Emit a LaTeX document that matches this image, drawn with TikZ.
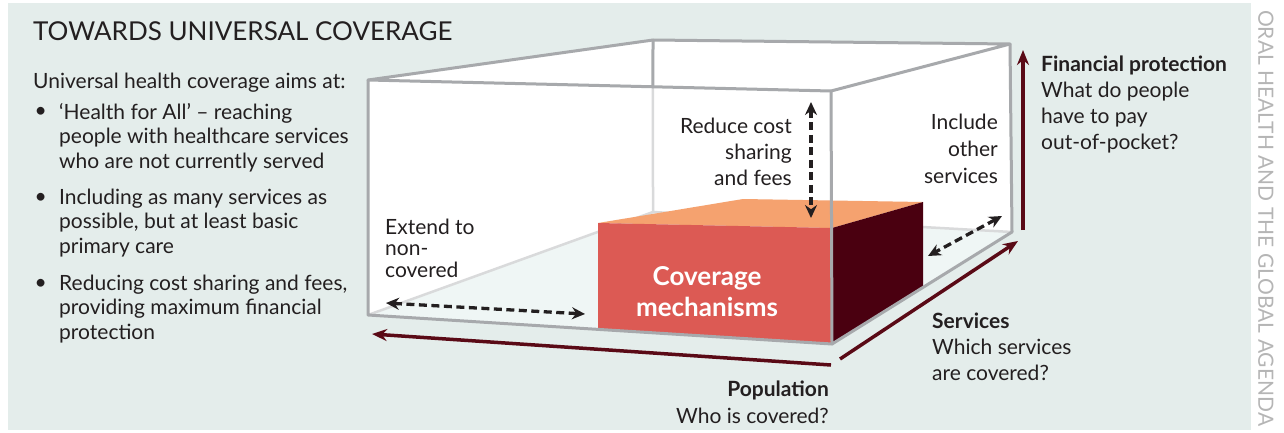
\documentclass[tikz,border=0pt]{standalone}
\usepackage{fontspec}
\setmainfont{Lato}
\usetikzlibrary{positioning,arrows.meta,calc}

\definecolor{panelbg}{HTML}{E4EDEB}
\definecolor{floorfill}{HTML}{EFF6F5}
\definecolor{edgegray}{HTML}{A7A9AC}
\definecolor{hiddengray}{HTML}{D9DADB}
\definecolor{axisred}{HTML}{5A0A16}
\definecolor{blockred}{HTML}{DC5A54}
\definecolor{blocktop}{HTML}{F5A26F}
\definecolor{blockside}{HTML}{4A0010}
\definecolor{textdark}{HTML}{231F20}
\definecolor{spinegray}{HTML}{B5B5B5}

\begin{document}
\begin{tikzpicture}[
    x=1pt, y=-1pt,
    boxedge/.style={draw=edgegray, line width=3pt, line join=round, line cap=round},
    hiddenedge/.style={draw=hiddengray, line width=2.5pt, line cap=round},
    axisarrow/.style={draw=axisred, line width=3.5pt, -{Stealth[length=15pt, width=12pt]}},
    shiftarrow/.style={draw=textdark, line width=3.3pt, dash pattern=on 8pt off 4.5pt,
        {Stealth[length=13pt, width=12pt]}-{Stealth[length=13pt, width=12pt]}},
    txt/.style={font=\fontsize{21}{24.5}\selectfont, text=textdark, inner sep=0pt, align=left},
    rtxt/.style={txt, align=right},
    head/.style={txt, font=\fontsize{21}{26}\selectfont\bfseries}
]
\useasboundingbox (0,0) rectangle (1284,432);

% Panel
\fill[panelbg] (8,3) rectangle (1251,430);

% Box corners
\coordinate (ftl) at (368,80);
\coordinate (ftr) at (831,91);
\coordinate (fbr) at (832,344);
\coordinate (fbl) at (368,315);
\coordinate (btl) at (653,40);
\coordinate (btr) at (1010,44);
\coordinate (bbr) at (1012,232);
\coordinate (bbl) at (653,212);
\coordinate (cross) at (intersection of ftl--ftr and btl--bbl);

% Box inside and floor
\fill[white] (ftl) -- (btl) -- (btr) -- (bbr) -- (fbr) -- (fbl) -- cycle;
\fill[floorfill] (fbl) -- (bbl) -- (bbr) -- (fbr) -- cycle;

% Hidden edges
\draw[hiddenedge] (cross) -- (bbl) -- (bbr);
\draw[hiddenedge] (fbl) -- (bbl);

% Coverage block
\coordinate (rlt) at (598,223);
\coordinate (rrt) at (832,228);
\coordinate (rrb) at (832,343);
\coordinate (rlb) at (598,329);
\coordinate (rbl) at (743,199);
\coordinate (rbr) at (923,202);
\coordinate (rbb) at (923,286);
\fill[blocktop] (rlt) -- (rbl) -- (rbr) -- (rrt) -- cycle;
\fill[blockred] (rlt) -- (rrt) -- (rrb) -- (rlb) -- cycle;
\fill[blockside] (rrt) -- (rbr) -- (rbb) -- (rrb) -- cycle;
\node[font=\fontsize{26}{31}\selectfont\bfseries, text=white, align=center, inner sep=0pt]
    (mech) at (707,292) {Coverage\\mechanisms};

% Visible edges
\draw[boxedge] (ftl) -- (btl) -- (btr) -- (ftr) -- cycle;
\draw[boxedge] (btl) -- (cross);
\draw[boxedge] (ftl) -- (fbl) -- (fbr) -- (ftr);
\draw[boxedge] (btr) -- (bbr) -- (fbr);

% Title and list (multi-line nodes sit on their last baseline)
\node[font=\fontsize{26}{30}\selectfont, text=textdark, inner sep=0pt, anchor=base west]
    (title) at (33,40) {TOWARDS UNIVERSAL COVERAGE};
\node[txt, anchor=base west] (intro) at (33,88) {Universal health coverage aims at:};
\node[txt, anchor=base west] (item1) at (59,168) {‘Health for All’ – reaching\\people with healthcare services\\who are not currently served};
\node[txt, anchor=base west] (item2) at (59,253) {Including as many services as\\possible, but at least basic\\primary care};
\node[txt, anchor=base west] (item3) at (59,339) {Reducing cost sharing and fees,\\providing maximum financial\\protection};
\foreach \it in {item1,item2,item3}
    \node[txt, anchor=base east] at ($(\it.north west)+(-12,15)$) {\textbullet};

% Labels inside the box
\node[txt, font=\fontsize{21}{21.5}\selectfont, anchor=base west] (extend) at (385,277) {Extend to\\non-\\covered};
\node[rtxt, font=\fontsize{21}{26}\selectfont, anchor=base east] (reduce) at (792,185) {Reduce cost\\sharing\\and fees};
\node[rtxt, font=\fontsize{21}{27}\selectfont, anchor=base east] (include) at (998,183) {Include\\other\\services};

% Dashed arrows
\coordinate (extl) at (386,303);
\coordinate (extr) at (585,314);
\coordinate (redt) at (811,102);
\coordinate (redb) at (811,218);
\coordinate (incu) at (1002,216);
\coordinate (incd) at (928,256);
\draw[shiftarrow] (extl) -- (extr);
\draw[shiftarrow] (redt) -- (redb);
\draw[shiftarrow] (incu) -- (incd);

% Axes
\coordinate (popr) at (831,365);
\coordinate (popl) at (372,334);
\coordinate (serl) at (840,359);
\coordinate (seru) at (1018,241);
\coordinate (finb) at (1023,230);
\coordinate (fint) at (1023,50);
\draw[axisarrow] (popr) -- (popl);
\draw[axisarrow] (serl) -- (seru);
\draw[axisarrow] (finb) -- (fint);

% Axis labels
\node[head, anchor=base west] (finhead) at (1041,71) {Financial protection};
\node[txt, font=\fontsize{21}{26}\selectfont, anchor=base west] (fintext) at (1041,149) {What do people\\have to pay\\out-of-pocket?};
\node[head, anchor=base west] (serhead) at (932,328) {Services};
\node[txt, font=\fontsize{21}{25.5}\selectfont, anchor=base west] (sertext) at (932,380) {Which services\\are covered?};
\node[head, anchor=base east] (pophead) at (829,396) {Population};
\node[txt, anchor=base east] (poptext) at (829,423) {Who is covered?};

% Spine
\node[font=\fontsize{21}{21}\selectfont, text=spinegray, rotate=-90, inner sep=0pt]
    (spine) at (1266,218) {ORAL HEALTH AND THE GLOBAL AGENDA};
\end{tikzpicture}
\end{document}
